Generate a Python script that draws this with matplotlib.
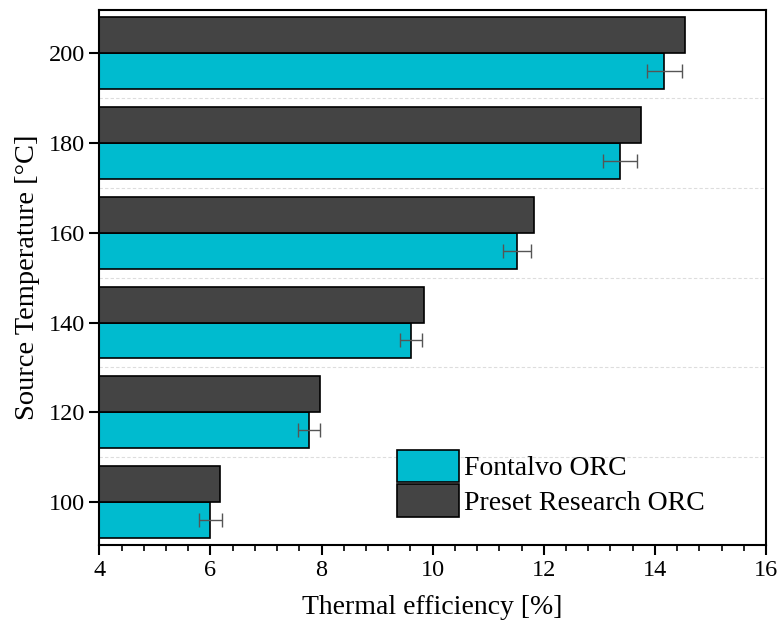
import numpy as np
import matplotlib
matplotlib.use('Agg')
import matplotlib.pyplot as plt
from matplotlib.ticker import MultipleLocator

# Données
temperatures = [100, 120, 140, 160, 180, 200]
fontalvo = [6.00, 7.77, 9.61, 11.52, 13.37, 14.17]
fontalvo_err = [0.20, 0.20, 0.20, 0.25, 0.30, 0.31]
preset = [6.17, 7.97, 9.85, 11.82, 13.75, 14.54]

plt.rcParams['font.family'] = ['Liberation Serif', 'DejaVu Serif']

fig = plt.figure(figsize=(7.79, 6.33), dpi=100)
ax = fig.add_axes([0.1275, 0.1385, 0.8558, 0.8457])

h = 8
y = np.array(temperatures)
ax.barh(y - h / 2, fontalvo, height=h, color='#00BBCF', edgecolor='black',
        linewidth=1.2, label='Fontalvo ORC', zorder=2)
ax.barh(y + h / 2, preset, height=h, color='#444444', edgecolor='black',
        linewidth=1.2, label='Preset Research ORC', zorder=2)
ax.errorbar(fontalvo, y - h / 2, xerr=fontalvo_err, fmt='none', ecolor='#555555',
            elinewidth=1.0, capsize=5, capthick=1.0, zorder=3)

# lignes de séparation entre les groupes
for yy in y[:-1] + 10:
    ax.axhline(yy, color='#dddddd', linestyle=(0, (3, 2)), linewidth=0.8, zorder=1)

ax.set_xlim(4, 16)
ax.set_ylim(90.35, 209.65)
ax.set_yticks(temperatures)
ax.xaxis.set_major_locator(MultipleLocator(2))
ax.xaxis.set_minor_locator(MultipleLocator(0.4))
ax.tick_params(axis='both', which='major', direction='out', length=7, width=1.5, labelsize=17.5)
ax.tick_params(axis='x', which='minor', direction='out', length=4, width=1.2)
for s in ax.spines.values():
    s.set_linewidth(1.5)

ax.set_xlabel('Thermal efficiency [%]', fontsize=20, labelpad=10)
ax.set_ylabel('Source Temperature [°C]', fontsize=20.5, labelpad=6)

ax.legend(loc='lower right', bbox_to_anchor=(0.925, 0.033), frameon=False, fontsize=20,
          handlelength=2.2, handleheight=1.4, labelspacing=0.1, handletextpad=0.2,
          borderaxespad=0)

fig.savefig('out.png', dpi=100)
